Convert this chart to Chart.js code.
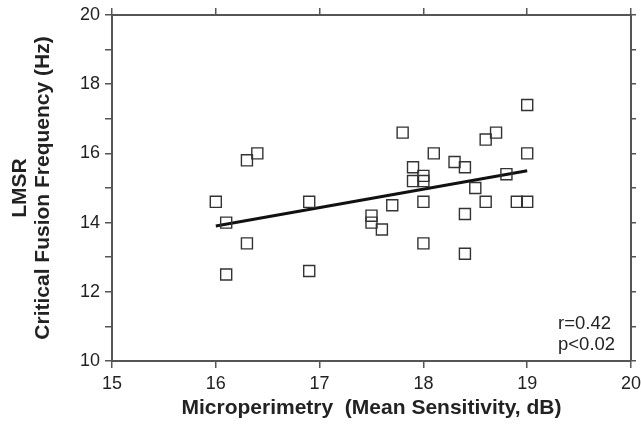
<!DOCTYPE html>
<html>
<head>
<meta charset="utf-8">
<script src="https://cdn.jsdelivr.net/npm/chart.js@4.4.0/dist/chart.umd.min.js"></script>
<style>
  html, body { margin: 0; padding: 0; background: #fff; }
  #wrap { width: 641px; height: 424px; }
</style>
</head>
<body>
<div id="wrap"><canvas id="grafico"></canvas></div>
<script>
// Dados
const sensibilidade = [16.0, 16.1, 16.1, 16.3, 16.4, 16.3, 16.9, 16.9, 17.5, 17.5, 17.6,
  17.7, 17.8, 17.9, 17.9, 18.0, 18.0, 18.0, 18.0, 18.1, 18.3, 18.4, 18.4, 18.4,
  18.5, 18.6, 18.7, 18.6, 18.8, 18.9, 19.0, 19.0, 19.0];
const frequencia = [14.6, 14.0, 12.5, 15.8, 16.0, 13.4, 14.6, 12.6, 14.2, 14.0, 13.8,
  14.5, 16.6, 15.6, 15.2, 15.35, 15.2, 14.6, 13.4, 16.0, 15.75, 15.6, 14.25, 13.1,
  15.0, 16.4, 16.6, 14.6, 15.4, 14.6, 14.6, 16.0, 17.4];
const retaX = [16.0, 19.0];
const retaY = [13.9, 15.5];
const estatisticas = ['r=0.42', 'p<0.02'];

const cinza = '#555';
const texto = '#222';
const fonte = '"Liberation Sans", Arial, sans-serif';

// texto da correlação no canto inferior direito
const anotacao = {
  id: 'anotacao',
  afterDraw(chart) {
    const ctx = chart.ctx;
    const area = chart.chartArea;
    ctx.save();
    ctx.font = '18.5px ' + fonte;
    ctx.fillStyle = texto;
    ctx.textAlign = 'left';
    ctx.textBaseline = 'alphabetic';
    estatisticas.forEach((t, i) => {
      ctx.fillText(t, area.right - 73, area.bottom - 32 + i * 21);
    });
    ctx.restore();
  }
};

const eixoBase = (pos) => ({
  type: 'linear',
  position: pos,
  grid: { drawOnChartArea: false, drawTicks: true, tickLength: 7, color: cinza, lineWidth: 1.5 },
  border: { display: true, color: cinza, width: 2 }
});

// tamanho fixo dos eixos, sem folga extra para os rótulos das pontas
const fixar = (w, h) => (s) => {
  if (w !== null) s.width = w;
  if (h !== null) s.height = h;
  s.paddingLeft = 0;
  s.paddingRight = 0;
  s.paddingTop = 0;
  s.paddingBottom = 0;
};

new Chart(document.getElementById('grafico').getContext('2d'), {
  type: 'scatter',
  data: {
    datasets: [
      {
        label: 'Pacientes',
        data: sensibilidade.map((x, i) => ({ x: x, y: frequencia[i] })),
        pointStyle: 'rect',
        pointRadius: 7.8,
        pointHoverRadius: 7.8,
        pointBorderWidth: 1.4,
        pointBorderColor: '#333',
        pointBackgroundColor: 'rgba(0,0,0,0)'
      },
      {
        type: 'line',
        label: 'Regressão',
        data: retaX.map((x, i) => ({ x: x, y: retaY[i] })),
        borderColor: '#111',
        borderWidth: 3,
        pointRadius: 0,
        fill: false
      }
    ]
  },
  options: {
    responsive: true,
    maintainAspectRatio: false,
    animation: false,
    layout: { padding: 0 },
    plugins: { legend: { display: false }, tooltip: { enabled: false } },
    scales: {
      x: Object.assign(eixoBase('bottom'), {
        min: 15, max: 20,
        ticks: { stepSize: 1, color: texto, padding: 5, maxRotation: 0,
          font: { family: fonte, size: 18 } },
        title: { display: true, text: 'Microperimetry  (Mean Sensitivity, dB)', color: texto,
          font: { family: fonte, size: 21, weight: 'bold', lineHeight: 1.2 },
          padding: { top: 0, bottom: 3 } },
        afterFit: fixar(null, 63)
      }),
      y: Object.assign(eixoBase('left'), {
        min: 10, max: 20,
        ticks: { stepSize: 1, color: texto, padding: 5,
          callback: (v) => (v % 2 === 0 ? v : ''),
          font: { family: fonte, size: 18 } },
        title: { display: true, text: ['LMSR', 'Critical Fusion Frequency (Hz)'], color: texto,
          font: { family: fonte, size: 21, weight: 'bold', lineHeight: 1.12 },
          padding: { top: 8, bottom: 0 } },
        afterFit: fixar(112, null)
      }),
      x2: Object.assign(eixoBase('top'), {
        min: 15, max: 20,
        ticks: { stepSize: 1, display: false },
        afterFit: fixar(null, 15)
      }),
      y2: Object.assign(eixoBase('right'), {
        min: 10, max: 20,
        grid: { drawOnChartArea: false, drawTicks: true, tickLength: 5, color: cinza, lineWidth: 1.5 },
        ticks: { stepSize: 1, display: false },
        afterFit: fixar(10, null)
      })
    }
  },
  plugins: [anotacao]
});
</script>
</body>
</html>
